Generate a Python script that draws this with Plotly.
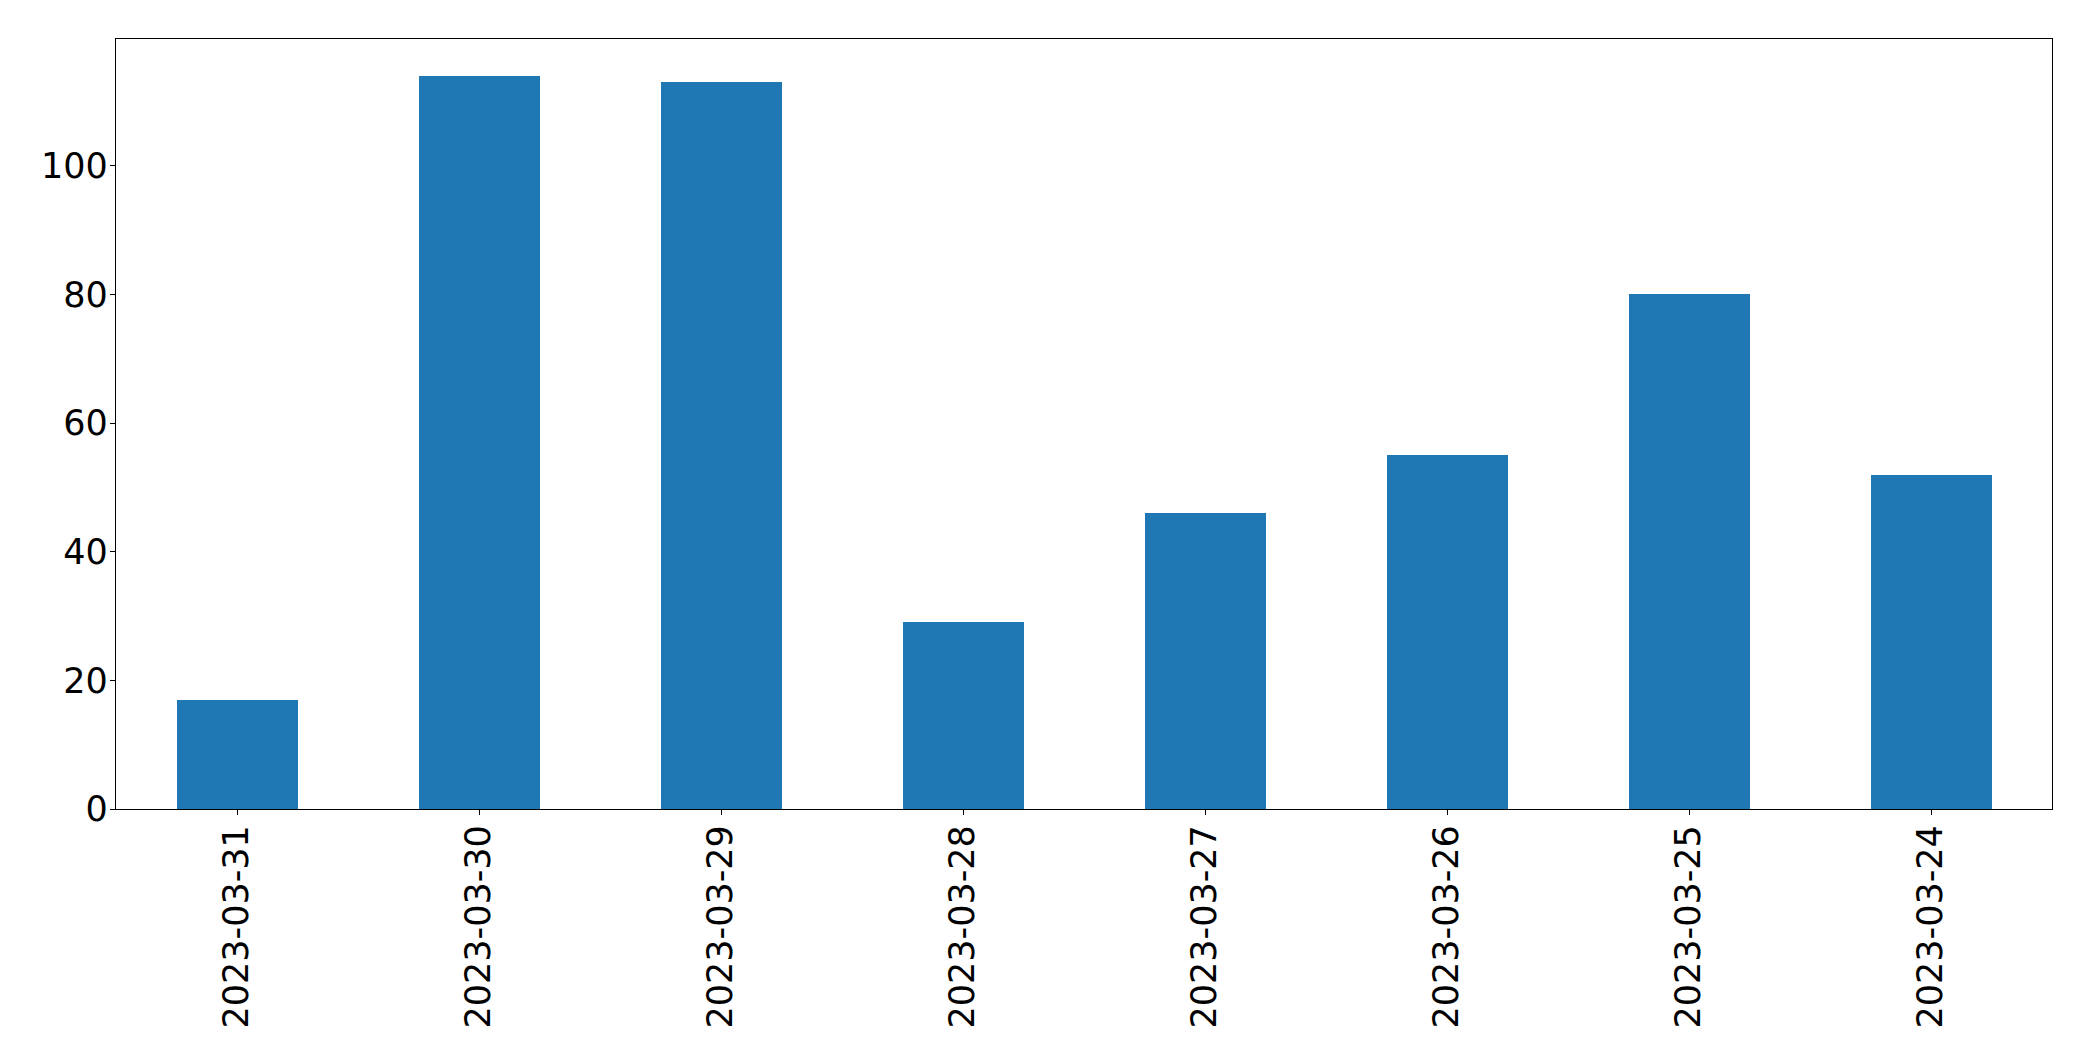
import plotly.graph_objects as go

categories = ["2023-03-31", "2023-03-30", "2023-03-29", "2023-03-28",
              "2023-03-27", "2023-03-26", "2023-03-25", "2023-03-24"]
values = [17, 114, 113, 29, 46, 55, 80, 52]
y_ticks = [0, 20, 40, 60, 80, 100]

fig = go.Figure(go.Bar(
    x=list(range(len(categories))), y=values,
    width=0.5, marker=dict(color="#1f77b4", line=dict(width=0)),
))

font = dict(family="DejaVu Sans", size=35, color="black")

fig.update_layout(
    width=2085, height=1053,
    margin=dict(l=108, r=41, t=31, b=252),
    paper_bgcolor="white", plot_bgcolor="white",
    showlegend=False, bargap=0,
    font=font,
)
fig.update_xaxes(
    range=[-0.5, len(categories) - 0.5],
    tickmode="array", tickvals=list(range(len(categories))), ticktext=categories,
    tickangle=-90, ticks="outside", ticklen=5, tickwidth=1.3, tickcolor="black",
    showline=True, linecolor="black", linewidth=1.3, mirror=True,
    showgrid=False, zeroline=False, tickfont=font, ticklabelstandoff=-4,
    automargin=False,
)
fig.update_yaxes(
    range=[0, max(values) * 1.05],
    tickmode="array", tickvals=y_ticks,
    ticks="outside", ticklen=5, tickwidth=1.3, tickcolor="black",
    showline=True, linecolor="black", linewidth=1.3, mirror=True,
    showgrid=False, zeroline=False, tickfont=font, ticklabelstandoff=-5,
    automargin=False,
)

fig.write_html("out.html")
